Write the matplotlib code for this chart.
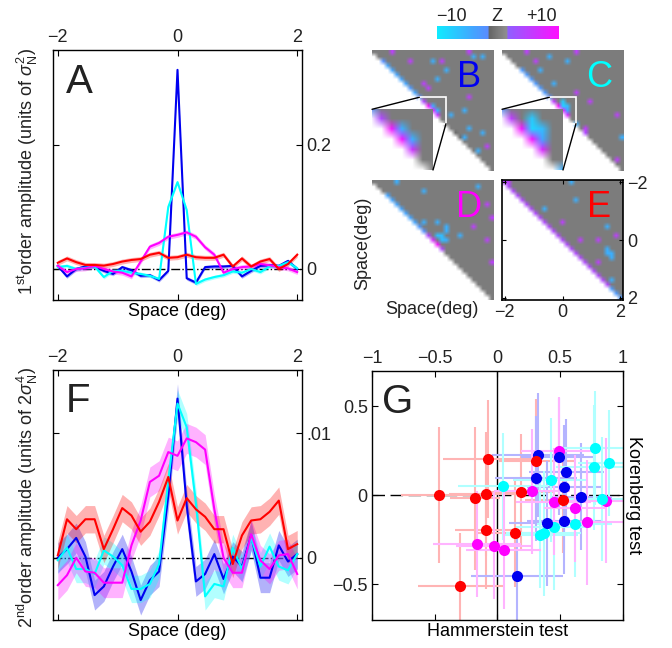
"""
Kernel figure: first and second order kernels (A, F), second order kernel
images for the four conditions (B-E) and the Hammerstein / Korenberg tests (G).
"""

import numpy as np
import matplotlib
matplotlib.use('Agg')
import matplotlib.pyplot as plt
from matplotlib.colors import LinearSegmentedColormap, Normalize
from matplotlib.patches import Rectangle, ConnectionPatch

plt.rcParams['font.family'] = ['Liberation Sans', 'DejaVu Sans']
plt.rcParams['mathtext.fontset'] = 'custom'
plt.rcParams['mathtext.rm'] = 'Liberation Sans'
plt.rcParams['mathtext.it'] = 'Liberation Sans:italic'
plt.rcParams['font.size'] = 13
plt.rcParams['axes.linewidth'] = 1.0
plt.rcParams['text.color'] = '#222222'
plt.rcParams['xtick.labelcolor'] = '#222222'
plt.rcParams['ytick.labelcolor'] = '#222222'

# ---------------------------------------------------------------- data
space = np.linspace(-2, 2, 27)

# first order kernels (units of sigma_N^2)
k1_blue = [0.005, -0.012, 0.0, 0.004, 0.004, -0.003, -0.008, 0.003, -0.002, -0.011, -0.010, -0.018, -0.003,
           0.321, -0.015, -0.022, 0.003, 0.004, 0.004, 0.005, -0.012, -0.003, 0.005, 0.006, 0.005, 0.013, 0.0]
k1_cyan = [0.003, 0.005, 0.0, 0.002, 0.004, -0.013, -0.003, -0.003, -0.006, -0.008, -0.011, -0.016, 0.100,
           0.140, 0.095, -0.024, -0.017, -0.013, -0.010, -0.004, -0.006, 0.0, -0.005, 0.004, 0.005, 0.011, 0.001]
k1_magenta = [0.005, -0.005, 0.0, 0.001, 0.005, 0.0, -0.004, -0.006, -0.012, 0.012, 0.036, 0.042, 0.052,
              0.055, 0.059, 0.052, 0.035, 0.023, -0.006, 0.0, 0.003, 0.004, 0.008, 0.006, 0.003, 0.001, -0.005]
k1_red = [0.010, 0.017, 0.011, 0.0065, 0.0065, 0.0054, 0.008, 0.012, 0.0145, 0.016, 0.023, 0.026, 0.018,
          0.019, 0.023, 0.019, 0.018, 0.018, 0.023, 0.004, 0.017, 0.004, 0.012, 0.016, 0.0, 0.008, 0.023]
k1_err = {'blue': 0.003, 'cyan': 0.003, 'magenta': 0.004, 'red': 0.004}

# second order kernel diagonals (units of 2 sigma_N^4)
k2_blue = [0.0, 0.0007, 0.0016, 0.0001, -0.0030, -0.0023, -0.0007, 0.0007, -0.0011, -0.0034, -0.0018, -0.0011,
           0.0050, 0.0128, 0.0042, -0.0019, -0.0013, 0.0003, -0.0017, 0.0001, -0.0007, 0.0018, -0.0016,
           -0.0016, 0.0010, -0.0003, 0.0003]
k2_cyan = [-0.0002, 0.0008, -0.0009, -0.0009, -0.0013, 0.0006, 0.0001, -0.0006, -0.0025, -0.0025, -0.0021,
           -0.0005, 0.0062, 0.0124, 0.0105, 0.0044, -0.0031, -0.0021, -0.0023, 0.0008, -0.0009, 0.0016,
           -0.0007, 0.0009, -0.0007, -0.0010, 0.0003]
k2_magenta = [-0.0022, -0.0014, 0.0, -0.0011, -0.0012, -0.0020, -0.0020, -0.0020, 0.0010, 0.0030, 0.0061,
              0.0066, 0.0085, 0.0082, 0.0096, 0.0093, 0.0087, 0.0039, 0.0, -0.0012, -0.0012, 0.0019, -0.0002,
              -0.0009, 0.0002, 0.0003, -0.0013]
k2_red = [0.0002, 0.0031, 0.0023, 0.0031, 0.0031, 0.0007, 0.0023, 0.0040, 0.0034, 0.0021, 0.0029, 0.0045,
          0.0065, 0.0030, 0.0048, 0.0039, 0.0033, 0.0023, 0.0023, -0.0005, 0.0018, 0.0030, 0.0031, 0.0037,
          0.0046, 0.0007, 0.0011]
k2_err = {'blue': 0.0012, 'cyan': 0.0011, 'magenta': 0.0012, 'red': 0.0011}

# second order kernel images (Z scores): diagonal and the pixels that stand out
n_pix = 27
b_diag = [0, 0, -2, -4, -4, -4, -4, -4, -3, -4, -2, 4, 9, 9, 6, 0, 0, 0, -1, -1, 0, 0, 0, 0, 0, 0, 0]
b_spots = [(0, 4, 5), (2, 8, 5), (2, 13, -5), (2, 15, 5), (0, 21, 5), (1, 22, -5), (1, 24, -5), (4, 16, -5),
           (6, 14, -5), (7, 11, 5), (8, 12, 5), (10, 21, 5), (12, 13, -5), (13, 14, -5), (14, 17, -5),
           (13, 20, -5), (17, 21, -5), (18, 24, -5), (19, 20, -5), (21, 25, 5), (22, 23, -5)]
c_diag = [0, 0, 0, 0, -3, -3, -3, -3, -3, -3, -2, 5, 9, 9, 7, 0, -5, 0, 4, 0, 0, 0, 0, 0, 0, 0, 0]
c_spots = [(0, 5, 5), (2, 7, 5), (1, 10, -5), (2, 14, -5), (0, 16, 5), (4, 8, -5), (7, 11, -5), (9, 16, 5),
           (11, 19, 5), (14, 25, 5), (19, 26, -5), (24, 25, 5), (11, 13, -7), (12, 13, -8), (12, 14, -6),
           (13, 14, -4), (17, 18, 5)]
d_diag = [0, 0, 0, -4, -4, -4, -4, -4, -4, -4, -3, -2, 4, 7, 9, 4, 0, 0, 0, 0, 0, 0, 0, 0, 0, 0, 0]
d_spots = [(0, 5, -5), (2, 11, -5), (1, 23, -5), (9, 14, -5), (10, 16, -5), (11, 16, -5), (12, 14, -6),
           (12, 15, -6), (13, 15, -6), (13, 16, -5), (9, 11, -5), (12, 19, -5), (10, 22, 5), (13, 25, 5),
           (18, 26, 5), (8, 26, 5), (5, 25, 5)]
e_diag = [4] * 24 + [-3, -3, -3]
e_spots = [(0, 1, 5), (6, 9, -5), (4, 16, -5), (0, 15, -5), (10, 23, -5), (13, 17, 5), (13, 21, 5),
           (12, 25, 5), (15, 23, -5), (16, 23, -5), (17, 24, -5), (16, 24, -5), (18, 21, 5), (22, 24, -5),
           (9, 13, 5)]

# Hammerstein (x) vs Korenberg (y) test, with error bars
g_red_x = [-0.075, -0.468, -0.176, -0.088, 0.192, 0.311, 0.522, -0.088, 0.144, -0.295]
g_red_y = [0.204, 0.002, -0.017, 0.007, 0.017, 0.191, -0.026, -0.195, -0.213, -0.511]
g_red_xerr = [0.36, 0.3, 0.2, 0.3, 0.25, 0.3, 0.3, 0.25, 0.3, 0.34]
g_red_yerr = [0.33, 0.38, 0.4, 0.35, 0.33, 0.35, 0.3, 0.33, 0.3, 0.3]
g_blue_x = [0.325, 0.49, 0.551, 0.309, 0.535, 0.668, 0.397, 0.535, 0.157]
g_blue_y = [0.227, 0.217, 0.129, 0.096, 0.045, -0.007, -0.157, -0.142, -0.451]
g_blue_xerr = [0.37, 0.3, 0.3, 0.33, 0.3, 0.25, 0.3, 0.3, 0.37]
g_blue_yerr = [0.35, 0.33, 0.3, 0.35, 0.35, 0.3, 0.35, 0.3, 0.26]
g_cyan_x = [0.045, 0.426, 0.782, 0.769, 0.894, 0.836, 0.45, 0.343, 0.37, 0.617]
g_cyan_y = [0.051, 0.086, 0.264, 0.157, 0.182, -0.021, -0.18, -0.221, -0.213, -0.161]
g_cyan_xerr = [0.36, 0.3, 0.3, 0.3, 0.25, 0.3, 0.3, 0.3, 0.3, 0.3]
g_cyan_yerr = [0.3, 0.35, 0.32, 0.35, 0.3, 0.35, 0.35, 0.3, 0.35, 0.3]
g_magenta_x = [0.49, 0.277, 0.45, 0.623, 0.716, 0.87, -0.162, -0.029, 0.051]
g_magenta_y = [0.251, 0.022, -0.036, -0.073, -0.152, -0.03, -0.273, -0.283, -0.307]
g_magenta_xerr = [0.3, 0.3, 0.3, 0.25, 0.3, 0.3, 0.35, 0.3, 0.3]
g_magenta_yerr = [0.3, 0.35, 0.3, 0.3, 0.35, 0.35, 0.3, 0.3, 0.33]

colors = {'blue': '#0000f0', 'cyan': '#00ffff', 'magenta': '#ff00ff', 'red': '#ff0000'}
light = {'blue': '#b4b4ff', 'cyan': '#b0ffff', 'magenta': '#ffb4ff', 'red': '#ffb4b4'}

z_cmap = LinearSegmentedColormap.from_list('z', [
    (0.0, '#10ecff'), (0.3, '#44a4ff'), (0.42, '#5a8cff'), (0.425, '#646464'), (0.5, '#7c7c7c'),
    (0.575, '#909090'), (0.58, '#8f60ff'), (1.0, '#ff10ff')])
z_norm = Normalize(-10, 10)

W, H = 672, 648
fig = plt.figure(figsize=(W / 100, H / 100), dpi=100)


def px_rect(x, y, w, h):
    return [x / W, 1 - (y + h) / H, w / W, h / H]


# ---------------------------------------------------------------- A and F
def kernel_panel(rect, curves, errs, ylim, yticks, yticklabels, letter):
    ax = fig.add_axes(px_rect(*rect))
    ax.axhline(0, color='k', lw=1, ls='-.', zorder=1)
    for name in ['blue', 'cyan', 'magenta', 'red']:
        y = np.array(curves[name])
        ax.fill_between(space, y - errs[name], y + errs[name], color=colors[name], alpha=0.3, lw=0, zorder=2)
        ax.plot(space, y, color=colors[name], lw=1.5, zorder=3)
    ax.set_xlim(-2.08, 2.08)
    ax.set_ylim(*ylim)
    ax.set_xticks([-2, 0, 2])
    ax.set_yticks(yticks)
    ax.set_yticklabels(yticklabels)
    ax.tick_params(direction='in', length=4, top=True, right=True, labeltop=True, labelbottom=False,
                   labelleft=False, labelright=True, labelsize=13, pad=3)
    ax.set_xlabel('Space (deg)', labelpad=2)
    ax.text(0.05, 0.95, letter, transform=ax.transAxes, fontsize=29, va='top', ha='left', color='#222222')
    return ax


kernel_panel((53, 50, 249, 250),
             {'blue': k1_blue, 'cyan': k1_cyan, 'magenta': k1_magenta, 'red': k1_red}, k1_err,
             (-0.05, 0.353), [0, 0.2], ['0', '0.2'], 'A')
fig.text(27 / W, 1 - 172 / H, r'1$^{\rm st}$order amplitude (units of $\sigma^2_{\rm N}$)',
         rotation=90, ha='center', va='center', fontsize=13)

kernel_panel((53, 370, 249, 250),
             {'blue': k2_blue, 'cyan': k2_cyan, 'magenta': k2_magenta, 'red': k2_red}, k2_err,
             (-0.005, 0.0151), [0, 0.01], ['0', '.01'], 'F')
fig.text(27 / W, 1 - 497 / H, r'2$^{\rm nd}$order amplitude (units of 2$\sigma^4_{\rm N}$)',
         rotation=90, ha='center', va='center', fontsize=13)


# ---------------------------------------------------------------- B-E
def kernel_image(diag, spots):
    # upper triangle holds the kernel, the lower triangle is left white
    z = np.zeros((n_pix, n_pix))
    z[np.arange(n_pix), np.arange(n_pix)] = diag
    for r, c, v in spots:
        z[r, c] = v
    rgb = z_cmap(z_norm(z))
    rgb[np.tril_indices(n_pix, -1)] = (1, 1, 1, 1)
    return rgb


half = 2 + 2 / (n_pix - 1)
extent = (-half, half, half, -half)
box_lo, box_hi = -0.45, 0.46


def image_panel(rect, rgb, letter, letter_color, frame=False):
    ax = fig.add_axes(px_rect(*rect))
    ax.imshow(rgb, extent=extent, interpolation='bilinear', aspect='auto')
    ax.set_xlim(-half, half)
    ax.set_ylim(half, -half)
    ax.text(0.80, 0.77, letter, transform=ax.transAxes, fontsize=26, color=letter_color,
            ha='center', va='center')
    if frame:
        ax.set_xticks([-2, 0, 2])
        ax.set_yticks([-2, 0, 2])
        ax.tick_params(direction='in', length=3, top=True, right=True, labelleft=False, labelright=True,
                       labelsize=13, pad=3)
        for s in ax.spines.values():
            s.set_linewidth(1.2)
    else:
        ax.axis('off')
    return ax


def add_inset(parent, rgb, rect):
    ins = fig.add_axes(px_rect(*rect))
    ins.imshow(rgb, extent=extent, interpolation='bilinear', aspect='auto')
    ins.set_xlim(box_lo, box_hi)
    ins.set_ylim(box_hi, box_lo)
    ins.axis('off')
    parent.add_patch(Rectangle((box_lo, box_lo), box_hi - box_lo, box_hi - box_lo,
                               fill=False, ec='white', lw=1.2, zorder=5))
    for corner in [(box_lo, box_lo), (box_hi, box_hi)]:
        fig.add_artist(ConnectionPatch(xyA=corner, coordsA=parent.transData, xyB=corner,
                                       coordsB=ins.transData, color='k', lw=1))


img_b = kernel_image(b_diag, b_spots)
img_c = kernel_image(c_diag, c_spots)
ax_b = image_panel((371.7, 50, 121.6, 120.7), img_b, 'B', colors['blue'])
ax_c = image_panel((501.7, 50, 121.6, 120.7), img_c, 'C', colors['cyan'])
image_panel((371.7, 180, 121.6, 120), kernel_image(d_diag, d_spots), 'D', colors['magenta'])
image_panel((502.3, 180, 120.4, 120), kernel_image(e_diag, e_spots), 'E', colors['red'], frame=True)
add_inset(ax_b, img_b, (372, 109.3, 61, 60.7))
add_inset(ax_c, img_c, (502, 109.3, 61, 60.7))

fig.text(363 / W, 1 - 243 / H, 'Space(deg)', rotation=90, ha='center', va='center', fontsize=13)
fig.text(432 / W, 1 - 310 / H, 'Space(deg)', ha='center', va='center', fontsize=13)

# colour bar
ax_cb = fig.add_axes(px_rect(436.7, 26, 121.6, 13))
ax_cb.imshow(np.linspace(-10, 10, 256)[None, :], cmap=z_cmap, norm=z_norm, aspect='auto',
             extent=(-10, 10, 0, 1))
ax_cb.axis('off')
for xpos, lab in [(0.123, '\u221210'), (0.493, 'Z'), (0.864, '+10')]:
    ax_cb.text(xpos, 1.08, lab, transform=ax_cb.transAxes, ha='center', va='bottom', fontsize=13)

# ---------------------------------------------------------------- G
ax_g = fig.add_axes(px_rect(372, 370.7, 250.5, 249.3))
ax_g.axvline(0, color='k', lw=1, zorder=1)
ax_g.axhline(0, color='k', lw=1, ls=(0, (9, 4)), zorder=1)
g_sets = {
    'red': (g_red_x, g_red_y, g_red_xerr, g_red_yerr),
    'blue': (g_blue_x, g_blue_y, g_blue_xerr, g_blue_yerr),
    'cyan': (g_cyan_x, g_cyan_y, g_cyan_xerr, g_cyan_yerr),
    'magenta': (g_magenta_x, g_magenta_y, g_magenta_xerr, g_magenta_yerr),
}
for name, (gx, gy, gxe, gye) in g_sets.items():
    ax_g.errorbar(gx, gy, xerr=gxe, yerr=gye, fmt='none', ecolor=light[name], elinewidth=1.5,
                  capsize=0, zorder=2)
for name in ['magenta', 'cyan', 'blue', 'red']:
    gx, gy = g_sets[name][0], g_sets[name][1]
    ax_g.plot(gx, gy, 'o', color=colors[name], ms=8, mec='none', zorder=4)
ax_g.set_xlim(-1, 1)
ax_g.set_ylim(-0.7, 0.7)
ax_g.set_xticks([-1, -0.5, 0, 0.5, 1])
ax_g.set_xticklabels(['\u22121', '\u22120.5', '0', '0.5', '1'])
ax_g.set_yticks([-0.5, 0, 0.5])
ax_g.set_yticklabels(['\u22120.5', '0', '0.5'])
ax_g.tick_params(direction='in', length=4, top=True, right=True, labeltop=True, labelbottom=False,
                 labelsize=13, pad=3)
ax_g.set_xlabel('Hammerstein test', labelpad=2)
ax_g.yaxis.set_label_position('right')
ax_g.set_ylabel('Korenberg test', rotation=270, labelpad=14)
ax_g.text(0.04, 0.95, 'G', transform=ax_g.transAxes, fontsize=29, va='top', ha='left', color='#222222')

fig.savefig('out.png', dpi=100)
